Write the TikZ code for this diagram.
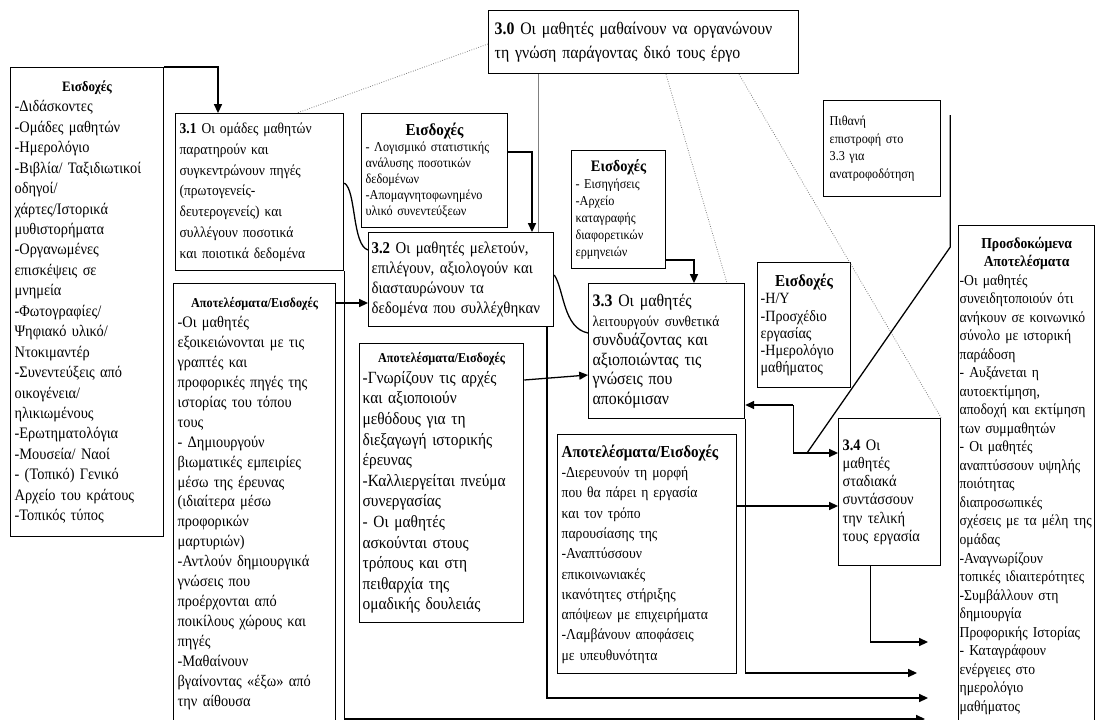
\documentclass[tikz,border=0pt]{standalone}
\usepackage{fontspec}
\setmainfont{Liberation Serif}[FakeStretch=0.9]
\usetikzlibrary{arrows.meta,calc}

\newdimen\pxu
\pxu=0.022cm
\newcommand{\fs}[2]{\fontsize{#1}{#2}\selectfont}
\newcommand{\headline}[1]{\hfill\textbf{#1}\hfill\mbox{}}

\tikzset{
  box/.style={draw, line width=0.8pt, anchor=north west, align=left,
    inner xsep=4\pxu, inner ysep=0pt},
  wire/.style={line width=0.8pt},
  link/.style={line width=0.8pt, -{Triangle[length=5.5pt, width=5pt]}},
  faint/.style={gray, densely dotted, line width=0.5pt},
}

\begin{document}
\begin{tikzpicture}[x=0.022cm, y=-0.022cm]
  \useasboundingbox (0,0) rectangle (1095,719);

  % main question
  \node[box, minimum width=310\pxu, minimum height=63\pxu, text width=298\pxu,
    font=\fs{11}{15}] (top) at (488,10)
    {\textbf{3.0} Οι μαθητές μαθαίνουν να οργανώνουν\\τη γνώση παράγοντας δικό τους έργο};

  % inputs, left column
  \node[box, minimum width=153\pxu, minimum height=469\pxu, text width=145\pxu,
    font=\fs{10}{12.8}] (in1) at (10,67)
    {\headline{\fs{9}{12.8}Εισδοχές}\\-Διδάσκοντες\\-Ομάδες μαθητών\\-Ημερολόγιο\\
     -Βιβλία/ Ταξιδιωτικοί\\οδηγοί/\\χάρτες/Ιστορικά\\μυθιστορήματα\\
     -Οργανωμένες\\επισκέψεις σε\\μνημεία\\-Φωτογραφίες/\\Ψηφιακό υλικό/\\
     Ντοκιμαντέρ\\-Συνεντεύξεις από\\οικογένεια/\\ηλικιωμένους\\
     -Ερωτηματολόγια\\-Μουσεία/ Ναοί\\- (Τοπικό) Γενικό\\Αρχείο του κράτους\\
     -Τοπικός τύπος};

  % steps
  \node[box, minimum width=168\pxu, minimum height=157\pxu, text width=160\pxu,
    font=\fs{9.4}{13}] (p31) at (175,113)
    {\textbf{3.1} Οι ομάδες μαθητών\\παρατηρούν και\\συγκεντρώνουν πηγές\\
     (πρωτογενείς-\\δευτερογενείς) και\\συλλέγουν ποσοτικά\\και ποιοτικά δεδομένα};
  \node[box, minimum width=146\pxu, minimum height=114\pxu, text width=138\pxu,
    font=\fs{8.5}{10}] (in2) at (361,113)
    {\headline{\fs{10.5}{12}Εισδοχές}\\- Λογισμικό στατιστικής\\ανάλυσης ποσοτικών\\
     δεδομένων\\-Απομαγνητοφωνημένο\\υλικό συνεντεύξεων};
  \node[box, minimum width=185\pxu, minimum height=94\pxu, text width=179\pxu,
    inner xsep=3\pxu, font=\fs{10.3}{12.5}] (p32) at (368,232)
    {\textbf{3.2} Οι μαθητές μελετούν,\\επιλέγουν, αξιολογούν και\\
     διασταυρώνουν τα\\δεδομένα που συλλέχθηκαν};
  \node[box, minimum width=94\pxu, minimum height=118\pxu, text width=86\pxu,
    font=\fs{8.5}{10.6}] (in3) at (571,150)
    {\headline{\fs{10}{12}Εισδοχές}\\- Εισηγήσεις\\-Αρχείο\\καταγραφής\\
     διαφορετικών\\ερμηνειών};
  \node[box, minimum width=156\pxu, minimum height=135\pxu, text width=148\pxu,
    font=\fs{11}{12.2}] (p33) at (588,283)
    {\textbf{3.3} Οι μαθητές\\{\fs{9.3}{12.2}λειτουργούν συνθετικά}\\
     συνδυάζοντας και\\αξιοποιώντας τις\\γνώσεις που\\αποκόμισαν};
  \node[box, minimum width=93\pxu, minimum height=125\pxu, text width=87\pxu,
    inner xsep=3\pxu, font=\fs{9.8}{10.8}] (in4) at (757,262)
    {\headline{\fs{10.5}{10.8}Εισδοχές}\\-Η/Υ\\-Προσχέδιο\\εργασίας\\-Ημερολόγιο\\μαθήματος};
  \node[box, minimum width=117\pxu, minimum height=96\pxu, text width=105\pxu,
    inner xsep=6\pxu, font=\fs{8.5}{11.2}] (back) at (823,100)
    {Πιθανή\\επιστροφή στο\\3.3 για\\ανατροφοδότηση};
  \node[box, minimum width=102\pxu, minimum height=147\pxu, text width=94\pxu,
    font=\fs{10}{11.4}] (p34) at (838,418)
    {\textbf{3.4} Οι\\μαθητές\\σταδιακά\\συντάσσουν\\την τελική\\τους εργασία};

  % results
  \node[box, minimum width=162\pxu, minimum height=440\pxu, text width=154\pxu,
    font=\fs{10}{12.5}] (out1) at (173,283)
    {\headline{\fs{8.5}{12.5}Αποτελέσματα/Εισδοχές}\\-Οι μαθητές\\εξοικειώνονται με τις\\
     γραπτές και\\προφορικές πηγές της\\ιστορίας του τόπου\\τους\\- Δημιουργούν\\
     βιωματικές εμπειρίες\\μέσω της έρευνας\\(ιδιαίτερα μέσω\\προφορικών\\
     μαρτυριών)\\-Αντλούν δημιουργικά\\γνώσεις που\\προέρχονται από\\
     ποικίλους χώρους και\\πηγές\\-Μαθαίνουν\\βγαίνοντας «έξω» από\\την αίθουσα};
  \node[box, minimum width=164\pxu, minimum height=279\pxu, text width=158\pxu,
    inner xsep=3\pxu, font=\fs{10.7}{12.9}] (out2) at (359,343)
    {\headline{\fs{8.5}{12.9}Αποτελέσματα/Εισδοχές}\\-Γνωρίζουν τις αρχές\\
     και αξιοποιούν\\μεθόδους για τη\\διεξαγωγή ιστορικής\\έρευνας\\
     -Καλλιεργείται πνεύμα\\συνεργασίας\\- Οι μαθητές\\ασκούνται στους\\
     τρόπους και στη\\πειθαρχία της\\ομαδικής δουλειάς};
  \node[box, minimum width=179\pxu, minimum height=239\pxu, text width=171\pxu,
    font=\fs{9.5}{12.7}] (out3) at (557,434)
    {\textbf{\fs{10.5}{12.7}Αποτελέσματα/Εισδοχές}\\-Διερευνούν τη μορφή\\που θα πάρει η εργασία\\
     και τον τρόπο\\παρουσίασης της\\-Αναπτύσσουν\\επικοινωνιακές\\
     ικανότητες στήριξης\\απόψεων με επιχειρήματα\\-Λαμβάνουν αποφάσεις\\
     με υπευθυνότητα};
  \node[box, minimum width=135\pxu, minimum height=500\pxu, text width=134\pxu,
    inner xsep=1\pxu, font=\fs{9.5}{11.6}] (goal) at (958,225)
    {\headline{Προσδοκώμενα}\\\headline{Αποτελέσματα}\\-Οι μαθητές\\συνειδητοποιούν ότι\\
     ανήκουν σε κοινωνικό\\σύνολο με ιστορική\\παράδοση\\- Αυξάνεται η\\
     αυτοεκτίμηση,\\αποδοχή και εκτίμηση\\των συμμαθητών\\- Οι μαθητές\\
     αναπτύσσουν υψηλής\\ποιότητας\\διαπροσωπικές\\σχέσεις με τα μέλη της\\
     ομάδας\\-Αναγνωρίζουν\\τοπικές ιδιαιτερότητες\\-Συμβάλλουν στη\\
     δημιουργία\\Προφορικής Ιστορίας\\- Καταγράφουν\\ενέργειες στο\\
     ημερολόγιο\\μαθήματος};

  % links from 3.0
  \draw[faint] ($(top.north west)+(0,34)$) -- ($(p31.north west)+(122,0)$);
  \draw[faint] ($(top.south west)+(178,0)$) -- ($(p33.north west)+(139,0)$);
  \draw[faint] ($(top.south west)+(251,0)$) -- (p34.north east);
  \draw[gray, line width=0.6pt] ($(top.south west)+(50,0)$) -- ($(p32.north west)+(170,0)$);

  % inputs into 3.1
  \draw[link] (in1.north east) -| ($(p31.north west)+(43,0)$);

  % steps chained
  \draw[wire] ($(p31.north east)+(0,70)$) .. controls +(12,7) and +(-16,-5) .. ($(p32.north west)+(0,18)$);
  \draw[wire] ($(p32.north east)+(0,43)$) .. controls +(10,15) and +(-25,-5) .. ($(p33.north west)+(0,50)$);

  % inputs into steps
  \draw[link] ($(in2.north east)+(0,39)$) -| ($(p32.north west)+(164,0)$);
  \draw[link] ($(in3.north east)+(0,110)$) -| ($(p33.north west)+(106,0)$);
  \draw[link] ($(out1.north west)+(162,20)$) -- ($(p32.north west)+(0,71)$);
  \draw[link] ($(out2.north east)+(0,37)$) -- ($(p33.north west)+(0,92)$);
  \draw[link] ($(out3.north east)+(0,72)$) -- ($(p34.north west)+(0,88)$);

  % 3.3 <-> 3.4 and feedback
  \coordinate (turn) at ($(p33.north east)+(48,122)$);
  \draw[link] (turn) -- ($(p33.north east)+(0,122)$);
  \draw[link] (turn) |- ($(p34.north west)+(0,35)$);
  \draw[wire] ($(p34.north west)+(-31,35)$) -- ($(back.north east)+(9,147)$)
    -- ($(back.north east)+(9,15)$);

  % outputs to expected results
  \draw[link] ($(p34.south)+(-19,0)$) |- ($(goal.north west)+(-30,417)$);
  \draw[link] (p33.south east) |- ($(goal.north west)+(-41,448)$);
  \draw[link] ($(p32.south west)+(179,0)$) |- ($(goal.north west)+(-30,473)$);
  \draw[link] (p31.south east) |- ($(goal.north west)+(-33,494)$);
\end{tikzpicture}
\end{document}
